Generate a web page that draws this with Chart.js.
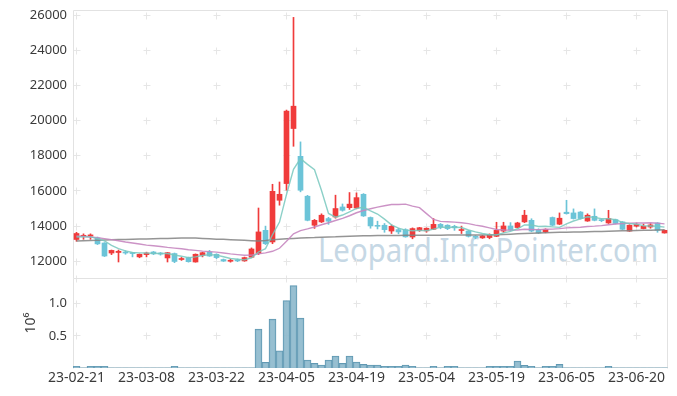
<!DOCTYPE html>
<html><head><meta charset="utf-8">
<script src="https://cdn.jsdelivr.net/npm/chart.js@4/dist/chart.umd.min.js"></script>
<style>
html,body{margin:0;padding:0;background:#fff;}
#wrap{position:relative;width:677px;height:396px;overflow:hidden;background:#fff;}
#wm{position:absolute;left:318px;top:234px;font-family:'Noto Sans',sans-serif;font-size:32px;line-height:32px;color:rgb(198,216,229);white-space:nowrap;transform-origin:0 0;}
canvas{position:absolute;left:0;}
#c1{top:0;}
#c2{top:268px;}
</style></head>
<body><div id="wrap">
<div id="wm">Leopard.InfoPointer.com</div>
<canvas id="c1" width="677" height="278"></canvas>
<canvas id="c2" width="677" height="128"></canvas>
</div>
<script>
const dates = ['23-02-21','23-02-22','23-02-23','23-02-24','23-02-27','23-02-28',
'23-03-02','23-03-03','23-03-06','23-03-07','23-03-08','23-03-09','23-03-10','23-03-13','23-03-14','23-03-15','23-03-16','23-03-17','23-03-20','23-03-21','23-03-22','23-03-23','23-03-24','23-03-27','23-03-28','23-03-29','23-03-30','23-03-31',
'23-04-03','23-04-04','23-04-05','23-04-06','23-04-07','23-04-10','23-04-11','23-04-12','23-04-13','23-04-14','23-04-17','23-04-18','23-04-19','23-04-20','23-04-21','23-04-24','23-04-25','23-04-26','23-04-27','23-04-28',
'23-05-02','23-05-03','23-05-04','23-05-08','23-05-09','23-05-10','23-05-11','23-05-12','23-05-15','23-05-16','23-05-17','23-05-18','23-05-19','23-05-22','23-05-23','23-05-24','23-05-25','23-05-26','23-05-30','23-05-31',
'23-06-01','23-06-02','23-06-05','23-06-07','23-06-08','23-06-09','23-06-12','23-06-13','23-06-14','23-06-15','23-06-16','23-06-19','23-06-20','23-06-21','23-06-22','23-06-23','23-06-26'];

const openPrices = [13240,13420,13430,13330,13040,12470,12500,12530,12480,12250,12380,12530,12470,12190,12440,12100,12210,11960,12340,12530,12400,12100,12000,12080,12020,12230,12440,13760,13100,15470,16420,19550,17970,15700,14050,14240,14430,14520,15090,15050,15030,15810,14490,14030,14050,13720,13800,13800,13380,13750,13730,13820,14100,14050,13990,13750,13720,13410,13330,13350,13420,13720,14010,13920,14240,14330,13800,13670,14490,14110,14790,14750,14800,14290,14560,14340,14180,14370,14240,13720,14000,13860,13950,14180,13610];
const highPrices = [13650,13560,13560,13380,13060,12640,12640,12600,12510,12420,12520,12560,12500,12510,12470,12220,12240,12420,12520,12620,12430,12130,12120,12130,12240,12760,15030,14000,16380,16510,20600,25870,18790,15750,14380,14700,14500,15760,15260,15910,15890,15850,14520,14280,14150,14070,13880,13850,13900,13930,13900,14430,14150,14080,14050,14000,13750,13460,13480,13560,14220,14220,14200,14220,14900,14420,13850,13850,14520,14750,15470,14980,14830,14700,14980,14400,14900,14400,14260,14080,14180,14120,14150,14200,13780];
const lowPrices = [13140,13250,13250,12950,12270,12380,11960,12400,12250,12200,12250,12380,12350,11960,11920,12050,11950,11950,12250,12280,12150,11990,11950,11980,12000,12200,12380,12950,13000,15190,16040,18540,15950,14300,13870,14200,14100,14450,14850,14950,14980,14550,13880,13840,13650,13580,13560,13370,13280,13700,13650,13800,13850,13800,13760,13580,13380,13280,13300,13280,13400,13650,13750,13900,14200,13680,13580,13620,14020,14080,14680,14400,14400,14270,14300,14250,14150,14120,13800,13700,13950,13840,13880,13650,13600];
const closePrices = [13580,13480,13500,12990,12300,12620,12570,12470,12440,12400,12470,12420,12410,12490,11990,12160,11980,12400,12490,12300,12210,12010,12060,12020,12210,12700,13670,13000,15980,15810,20540,20820,16040,14330,14330,14620,14280,15000,14900,15250,15620,14580,14010,13990,13800,13990,13670,13390,13860,13910,13880,14100,13950,13860,13900,13780,13420,13370,13440,13520,13760,14010,13780,14180,14620,13720,13610,13820,14050,14450,14710,14430,14430,14620,14330,14310,14430,14150,13820,14050,14100,13990,14070,13760,13760];
const ma5 = [13380,13390,13390,13290,13160,12910,12720,12590,12500,12480,12470,12450,12440,12440,12360,12290,12210,12250,12330,12380,12350,12260,12160,12120,12080,12200,12530,12720,13510,14230,15800,17230,17840,17510,17210,16030,14720,14510,14630,14810,15010,15070,14870,14690,14400,14070,13890,13770,13740,13760,13740,13830,13940,13940,13940,13920,13780,13670,13580,13510,13500,13620,13700,13850,14070,14060,13980,13990,13960,13930,14130,14290,14410,14530,14500,14420,14420,14370,14210,14150,14110,14020,14010,13990,13940];
const ma20 = [13440,13410,13380,13340,13290,13230,13170,13100,13040,12980,12920,12880,12840,12790,12750,12710,12660,12620,12580,12550,12520,12470,12420,12380,12340,12350,12420,12480,12570,12740,13140,13560,13740,13840,13950,14080,14190,14320,14440,14590,14760,14890,14990,15080,15160,15230,15230,15250,15140,15050,14710,14380,14270,14250,14230,14190,14140,14060,13990,13900,13810,13780,13770,13780,13820,13810,13800,13820,13830,13860,13900,13920,13940,13980,14000,14030,14080,14120,14140,14160,14180,14180,14190,14170,14130];
const ma60 = [13155,13170,13185,13200,13210,13220,13235,13245,13255,13265,13270,13280,13290,13300,13310,13320,13330,13320,13300,13280,13260,13250,13230,13210,13190,13170,13155,13180,13220,13250,13280,13300,13320,13340,13350,13370,13380,13390,13410,13430,13440,13450,13455,13460,13465,13470,13470,13475,13475,13480,13480,13485,13485,13490,13490,13495,13495,13500,13500,13505,13510,13525,13540,13560,13580,13600,13615,13630,13640,13645,13650,13660,13670,13680,13690,13700,13710,13720,13730,13740,13750,13760,13770,13780,13790];
const volume = [25000,3000,25000,25000,25000,3000,3000,3000,3000,3000,3000,3000,3000,3000,25000,3000,3000,3000,3000,3000,3000,3000,3000,3000,3000,3000,605000,89000,760000,266000,1047000,1281000,776000,125000,73000,47000,125000,187000,73000,187000,94000,57000,47000,47000,26000,26000,26000,47000,26000,3000,3000,25000,3000,25000,25000,3000,3000,3000,3000,25000,25000,25000,25000,109000,42000,26000,3000,25000,25000,57000,3000,3000,3000,3000,3000,3000,25000,3000,3000,3000,3000,3000,3000,3000,3000];

const xTickIdx = [0,10,20,30,40,50,60,70,80];
const priceTicks = [12000,14000,16000,18000,20000,22000,24000,26000];
const volTicks = [500000,1000000];

const UP = '#f03b3b', DOWN = '#6cc4d8';
const candleColors = closePrices.map((c,i)=> c >= openPrices[i] ? UP : DOWN);
const FONT = "'Noto Sans', sans-serif";

const framePlugin = {
  id:'frame',
  beforeDatasetsDraw(chart, args, opts){
    const {ctx, chartArea:a, scales} = chart;
    ctx.save();
    ctx.strokeStyle = '#e6e6e6'; ctx.lineWidth = 1;
    const ys = opts.yVals.map(v=>Math.floor(scales.y.getPixelForValue(v))+0.5);
    const xs = xTickIdx.map(i=>Math.floor(scales.x.getPixelForValue(i))+0.5);
    ctx.beginPath();
    xs.forEach(x=>ys.forEach(y=>{ctx.moveTo(x-3,y);ctx.lineTo(x+4,y);ctx.moveTo(x,y-3);ctx.lineTo(x,y+4);}));
    ctx.stroke();
    ctx.strokeStyle = '#e2e2e2';
    ctx.beginPath();
    const L = Math.round(a.left)+0.5, R = Math.round(a.right)-0.5, T = Math.round(a.top)+0.5, B = Math.round(a.bottom)-0.5;
    ctx.moveTo(L, B+1); ctx.lineTo(L, T); ctx.lineTo(R, T); ctx.lineTo(R, B+1);
    if (opts.bottom) { ctx.moveTo(L, B); ctx.lineTo(R, B); }
    ctx.stroke();
    ctx.restore();
  }
};

const noEdgePad = s => { s.paddingTop = 0; s.paddingBottom = 0; };

Chart.defaults.font.family = FONT;
Chart.defaults.color = '#3a3a3a';

new Chart(document.getElementById('c1'), {
  type: 'bar',
  data: {
    labels: dates,
    datasets: [
      {type:'line', data: ma5, borderColor:'rgba(120,200,190,0.85)', borderWidth:1.4, pointRadius:0, tension:0, order:0},
      {type:'line', data: ma20, borderColor:'rgba(198,135,192,0.9)', borderWidth:1.4, pointRadius:0, tension:0, order:0},
      {type:'line', data: ma60, borderColor:'rgba(130,130,130,0.85)', borderWidth:1.5, pointRadius:0, tension:0, order:0},
      {type:'bar', data: lowPrices.map((l,i)=>[l, highPrices[i]]), backgroundColor: candleColors, barThickness:1, grouped:false, order:3},
      {type:'bar', data: openPrices.map((o,i)=>[o, closePrices[i]]), backgroundColor: candleColors, barThickness:5, minBarLength:1, grouped:false, order:2}
    ]
  },
  options: {
    responsive:false, animation:false, devicePixelRatio:1,
    layout:{padding:{top:10,right:9,bottom:0,left:0}},
    plugins:{legend:{display:false}, tooltip:{enabled:false}, frame:{yVals: priceTicks, bottom:false}},
    scales:{
      x:{display:false, offset:true},
      y:{min:11050, max:26290,
         afterBuildTicks: s=>{ s.ticks = priceTicks.map(v=>({value:v})); },
         afterFit: s=>{ s.width = 73; noEdgePad(s); },
         grid:{display:false, drawTicks:false}, border:{display:false},
         ticks:{padding:6, font:{size:13}, color:'#3a3a3a', callback: v=>String(v)}}
    }
  },
  plugins:[framePlugin]
});

new Chart(document.getElementById('c2'), {
  type:'bar',
  data:{labels: dates, datasets:[{data: volume, backgroundColor:'rgba(140,184,204,0.9)', borderColor:'#6199b3', borderWidth:1, barPercentage:1, categoryPercentage:1}]},
  options:{
    responsive:false, animation:false, devicePixelRatio:1,
    layout:{padding:{top:10,right:9,bottom:0,left:0}},
    plugins:{legend:{display:false}, tooltip:{enabled:false}, frame:{yVals:[500000,1000000,1400000], bottom:true}},
    scales:{
      x:{offset:true, grid:{display:false, drawTicks:false}, border:{display:false},
         afterBuildTicks: s=>{ s.ticks = xTickIdx.map(i=>({value:i})); },
         afterFit: s=>{ s.height = 28; },
         ticks:{autoSkip:false, maxRotation:0, minRotation:0, padding:2, font:{size:14}, color:'#3a3a3a'}},
      y:{min:0, max:1400000,
         afterBuildTicks: s=>{ s.ticks = volTicks.map(v=>({value:v})); },
         afterFit: s=>{ s.width = 73; noEdgePad(s); },
         grid:{display:false, drawTicks:false}, border:{display:false},
         title:{display:true, text:'10⁶', font:{size:14}, color:'#3a3a3a', padding:{top:23,bottom:0}},
         ticks:{padding:6, font:{size:13}, color:'#3a3a3a', callback: v=>(v/1e6).toFixed(1)}}
    }
  },
  plugins:[framePlugin]
});

const wm = document.getElementById('wm');
const w = wm.offsetWidth;
if (w > 0) wm.style.transform = 'scaleX(' + (340 / w) + ')';
</script>
</body></html>
